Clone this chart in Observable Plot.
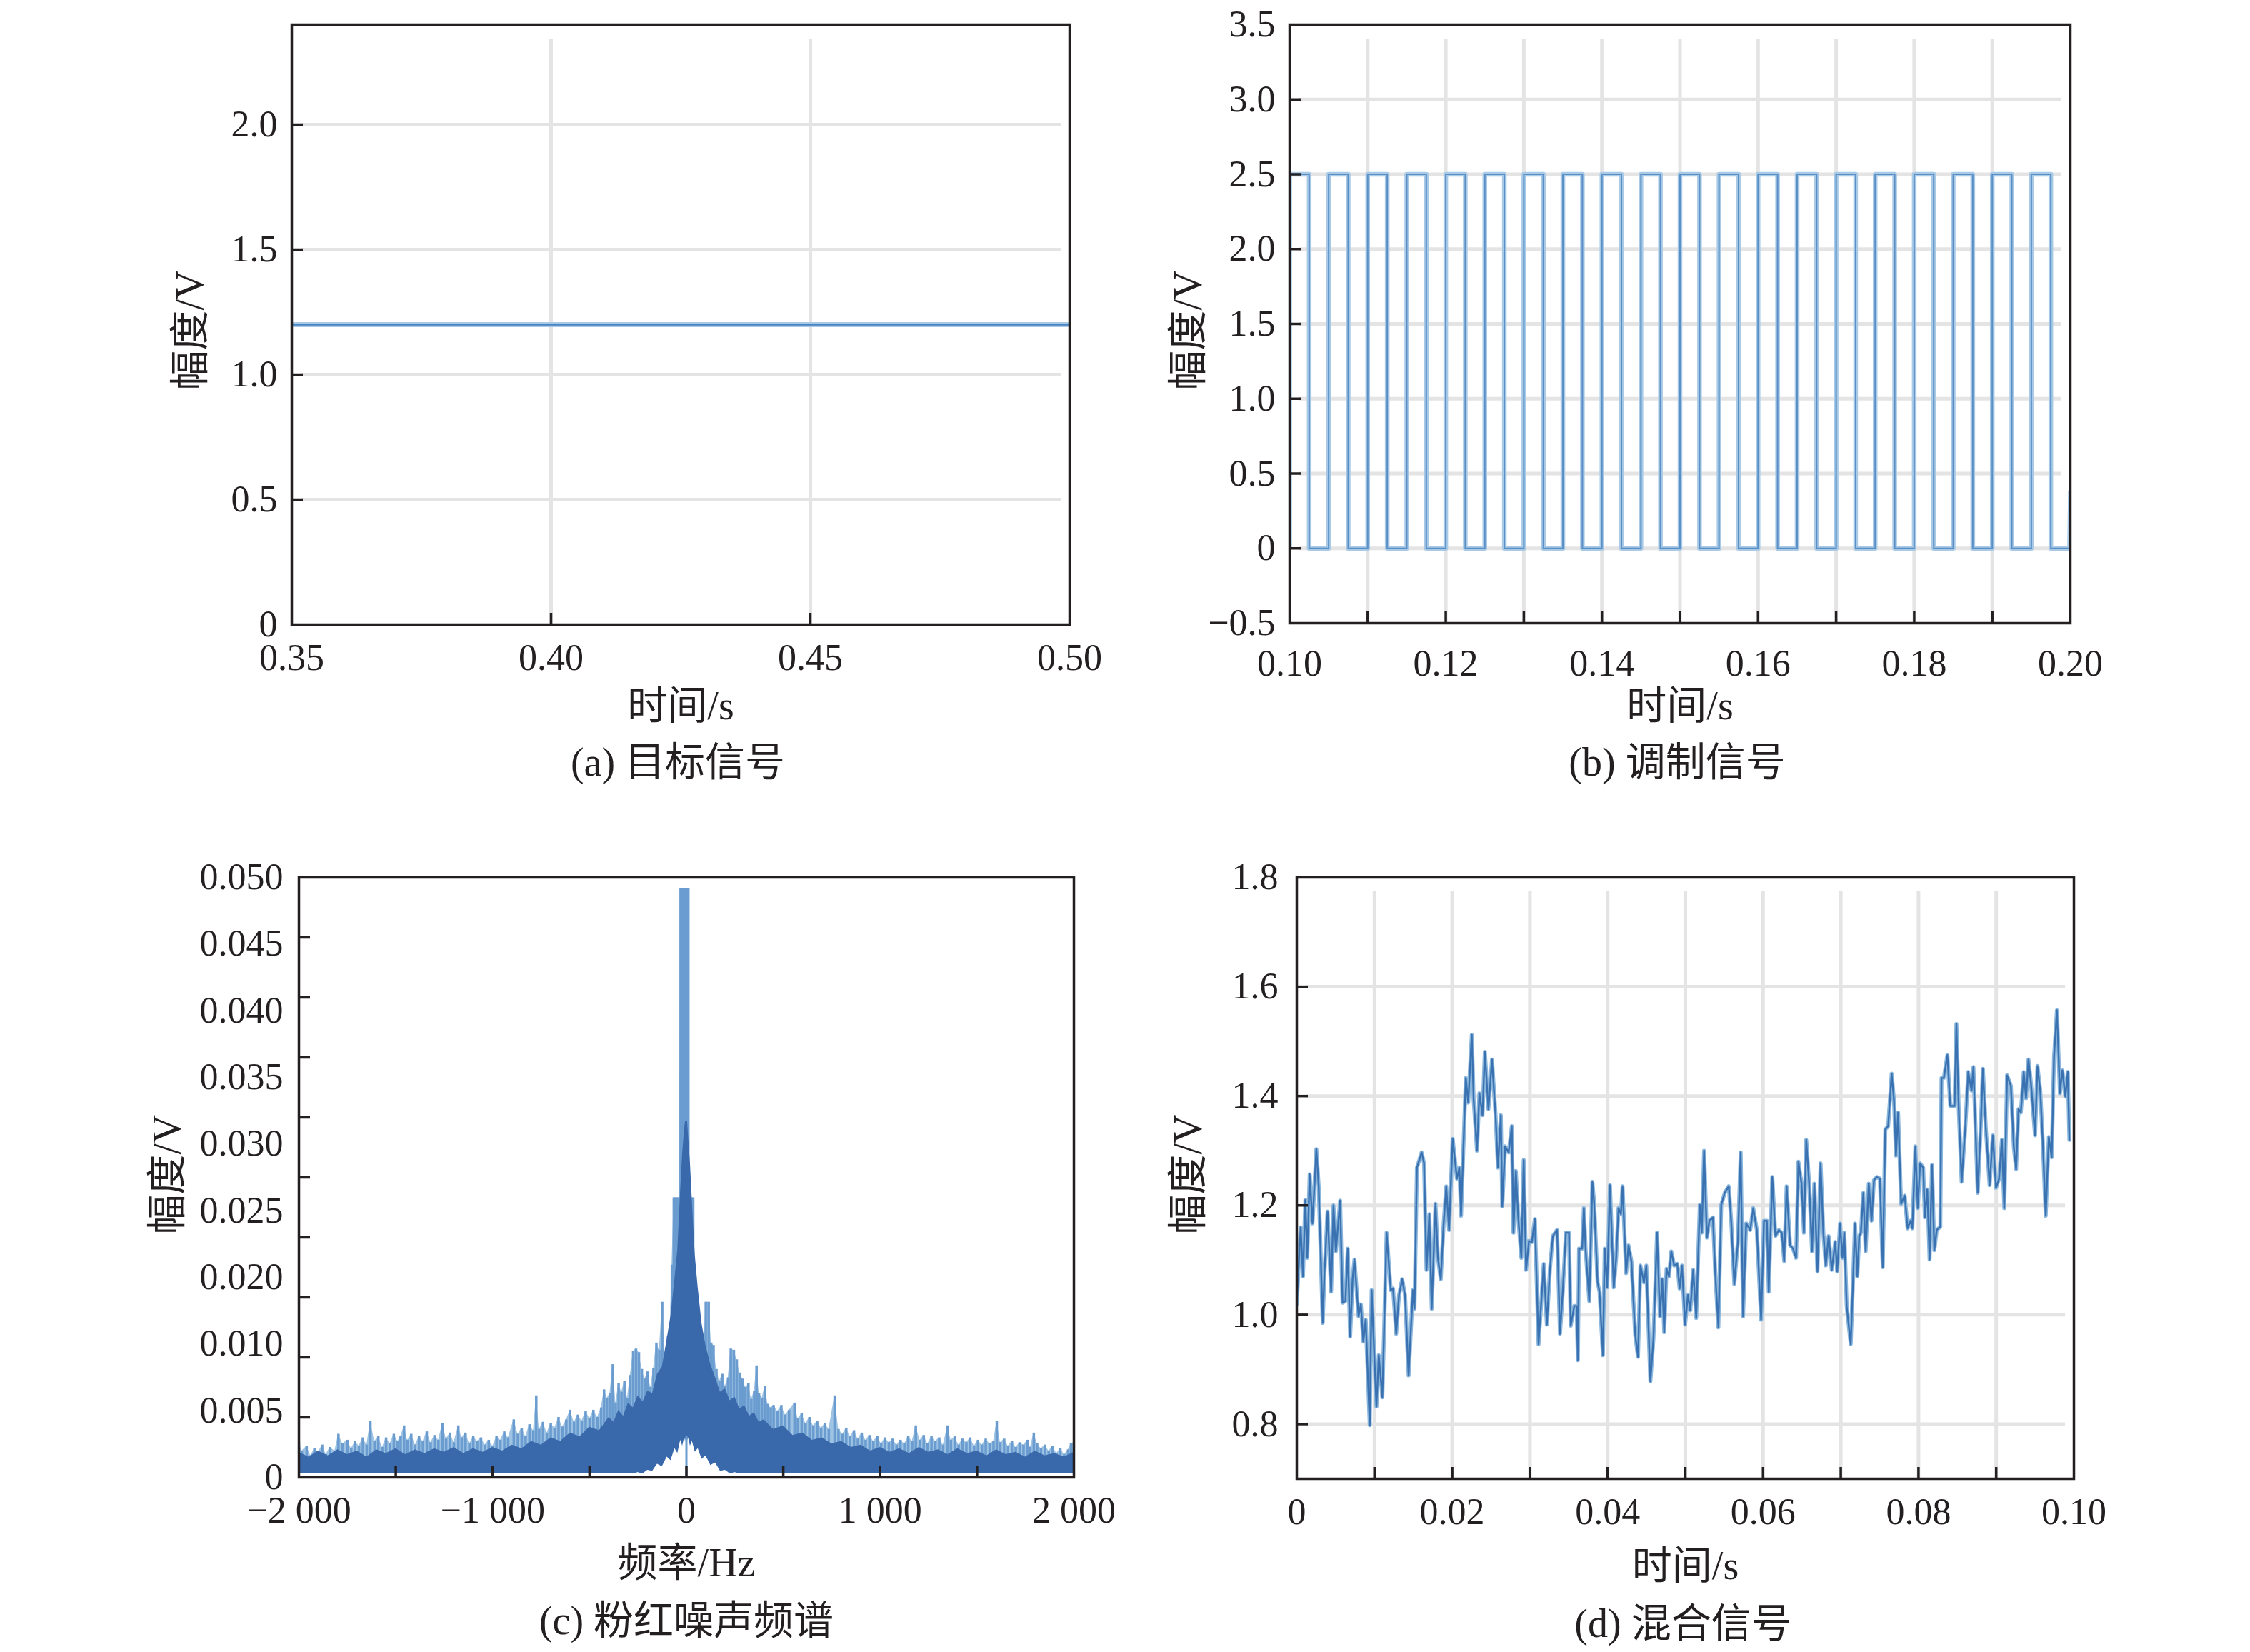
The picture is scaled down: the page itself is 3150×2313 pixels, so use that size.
<!DOCTYPE html>
<html><head><meta charset="utf-8">
<script src="https://cdn.jsdelivr.net/npm/d3@7"></script>
<script src="https://cdn.jsdelivr.net/npm/@observablehq/plot@0.6"></script>
<style>
html,body{margin:0;padding:0;background:#fff;}
#root{position:relative;width:3150px;height:2313px;background:#fff;overflow:hidden;}
.panel{position:absolute;}
.cap{position:absolute;transform:translate(-50%,-50%);font-size:56px;white-space:nowrap;color:#231f20;font-family:"Liberation Serif","Noto Sans CJK SC",serif;line-height:1;}
</style></head><body><div id="root"></div>
<script>
// ---------- Panel (a) target signal ----------
const aTime = [0.35, 0.50];
const aVolt = [1.2, 1.2];
const aXLabelVals = [0.35, 0.40, 0.45, 0.50];
const aXLabels = ["0.35", "0.40", "0.45", "0.50"];
const aYLabelVals = [0, 0.5, 1.0, 1.5, 2.0];
const aYLabels = ["0", "0.5", "1.0", "1.5", "2.0"];

// ---------- Panel (b) modulation signal ----------
const bHigh = 2.5, bLow = 0;
const bRise = [0.1000,0.1050,0.1100,0.1150,0.1200,0.1250,0.1300,0.1350,0.1400,0.1450,0.1500,0.1550,0.1600,0.1650,0.1700,0.1750,0.1800,0.1850,0.1900,0.1950];
const bFall = [0.1025,0.1075,0.1125,0.1175,0.1225,0.1275,0.1325,0.1375,0.1425,0.1475,0.1525,0.1575,0.1625,0.1675,0.1725,0.1775,0.1825,0.1875,0.1925,0.1975];
const bTailT = [0.1999, 0.2000];
const bTailV = [0, 0.38];
const bXLabelVals = [0.10, 0.12, 0.14, 0.16, 0.18, 0.20];
const bXLabels = ["0.10", "0.12", "0.14", "0.16", "0.18", "0.20"];
const bYLabelVals = [-0.5, 0, 0.5, 1.0, 1.5, 2.0, 2.5, 3.0, 3.5];
const bYLabels = ["\u22120.5", "0", "0.5", "1.0", "1.5", "2.0", "2.5", "3.0", "3.5"];

// ---------- Panel (c) pink noise spectrum ----------
const specF = [-2000,-1985,-1960,-1940,-1920,-1900,-1880,-1860,-1840,-1815,-1796,-1775,-1750,-1730,-1710,-1690,-1670,-1650,-1631,-1610,-1590,-1570,-1550,-1530,-1510,-1490,-1475,-1457,-1440,-1420,-1400,-1380,-1360,-1340,-1320,-1300,-1280,-1259,-1240,-1220,-1200,-1177,-1160,-1140,-1120,-1100,-1080,-1060,-1040,-1020,-1000,-980,-960,-940,-920,-891,-870,-850,-830,-810,-790,-775,-760,-740,-720,-700,-680,-660,-640,-620,-600,-580,-560,-540,-520,-500,-480,-460,-440,-425,-410,-395,-380,-365,-350,-335,-320,-305,-290,-275,-260,-245,-230,-215,-200,-185,-170,-155,-140,-125,-110,-95,-85,-75,-65,-55,-45,-35,-30,-25,-20,-15,-10,-5,0,5,10,15,25,35,45,55,65,75,88,100,115,128,140,155,170,185,200,215,229,245,260,275,290,305,320,335,350,362,375,390,405,420,435,450,470,490,510,530,558,575,595,615,635,655,675,695,715,735,765,785,805,825,845,865,885,905,925,945,965,985,1005,1025,1045,1065,1085,1105,1125,1145,1165,1184,1205,1225,1245,1265,1285,1305,1325,1348,1365,1385,1405,1425,1445,1465,1485,1505,1525,1545,1565,1585,1602,1620,1640,1660,1680,1700,1720,1740,1760,1775,1793,1810,1830,1850,1870,1890,1910,1930,1950,1970,1985,2000];
const specA = [0.0029,0.0022,0.0026,0.0018,0.0024,0.0021,0.0027,0.0019,0.0025,0.0022,0.0036,0.0028,0.0031,0.0024,0.0030,0.0026,0.0033,0.0027,0.0047,0.0030,0.0034,0.0025,0.0033,0.0028,0.0036,0.0030,0.0034,0.0043,0.0031,0.0036,0.0027,0.0034,0.0030,0.0038,0.0029,0.0035,0.0031,0.0045,0.0032,0.0037,0.0029,0.0043,0.0033,0.0037,0.0028,0.0034,0.0030,0.0033,0.0027,0.0031,0.0026,0.0034,0.0031,0.0038,0.0033,0.0048,0.0036,0.0041,0.0034,0.0044,0.0039,0.0068,0.0040,0.0046,0.0037,0.0045,0.0041,0.0050,0.0042,0.0048,0.0056,0.0046,0.0052,0.0047,0.0055,0.0049,0.0056,0.0050,0.0058,0.0073,0.0066,0.0070,0.0094,0.0062,0.0078,0.0071,0.0080,0.0066,0.0085,0.0105,0.0107,0.0104,0.0090,0.0082,0.0088,0.0075,0.0091,0.0112,0.0106,0.0146,0.0098,0.0118,0.0120,0.0177,0.0233,0.0233,0.0233,0.0233,0.0491,0.0491,0.0491,0.0491,0.0491,0.0491,0.0491,0.0491,0.0491,0.0233,0.0233,0.0233,0.0177,0.0150,0.0118,0.0110,0.0098,0.0146,0.0146,0.0112,0.0110,0.0090,0.0080,0.0086,0.0076,0.0083,0.0107,0.0106,0.0098,0.0087,0.0082,0.0075,0.0078,0.0065,0.0072,0.0093,0.0070,0.0066,0.0076,0.0061,0.0058,0.0060,0.0055,0.0060,0.0052,0.0056,0.0062,0.0049,0.0053,0.0045,0.0050,0.0043,0.0047,0.0041,0.0045,0.0040,0.0068,0.0040,0.0036,0.0041,0.0034,0.0039,0.0032,0.0037,0.0031,0.0035,0.0030,0.0034,0.0028,0.0033,0.0029,0.0032,0.0027,0.0031,0.0028,0.0034,0.0030,0.0043,0.0031,0.0035,0.0028,0.0034,0.0030,0.0033,0.0027,0.0043,0.0031,0.0034,0.0027,0.0032,0.0029,0.0033,0.0026,0.0031,0.0027,0.0032,0.0028,0.0030,0.0047,0.0029,0.0032,0.0026,0.0030,0.0025,0.0029,0.0027,0.0031,0.0025,0.0037,0.0028,0.0024,0.0027,0.0022,0.0026,0.0020,0.0024,0.0019,0.0023,0.0028,0.0029];
const bodyF = [-2000,-1950,-1900,-1850,-1800,-1750,-1700,-1650,-1600,-1550,-1500,-1450,-1400,-1350,-1300,-1250,-1200,-1150,-1100,-1050,-1000,-950,-900,-850,-800,-750,-700,-650,-600,-550,-500,-450,
-400,-375,-350,-325,-300,-275,-250,-225,-200,-175,-150,-125,-100,-80,-60,-45,-30,-20,-10,-5,
0,
5,10,20,30,45,60,80,100,125,150,175,200,225,250,275,300,325,350,375,400,
450,500,550,600,650,700,750,800,850,900,950,1000,1050,1100,1150,1200,1250,1300,1350,1400,1450,1500,1550,1600,1650,1700,1750,1800,1850,1900,1950,2000];
const bodyHi = [0.0021,0.0017,0.0022,0.0018,0.0023,0.0019,0.0022,0.0017,0.0023,0.0020,0.0024,0.0019,0.0023,0.0020,0.0024,0.0021,0.0025,0.0020,0.0024,0.0021,0.0025,0.0022,0.0027,0.0024,0.0030,0.0027,0.0033,0.0030,0.0037,0.0034,0.0042,0.0039,
0.0050,0.0046,0.0056,0.0051,0.0062,0.0058,0.0068,0.0063,0.0072,0.0070,0.0086,0.0092,0.0115,0.0135,0.0165,0.0190,0.0240,0.0270,0.0290,0.0297,
0.0297,
0.0297,0.0285,0.0262,0.0230,0.0185,0.0158,0.0128,0.0110,0.0094,0.0083,0.0071,0.0074,0.0064,0.0067,0.0057,0.0060,0.0051,0.0054,0.0046,0.0048,
0.0040,0.0043,0.0035,0.0037,0.0031,0.0033,0.0028,0.0030,0.0025,0.0027,0.0022,0.0025,0.0021,0.0024,0.0020,0.0025,0.0021,0.0023,0.0019,0.0024,0.0020,0.0022,0.0018,0.0023,0.0019,0.0021,0.0017,0.0022,0.0018,0.0020,0.0017,0.0021];
const bodyLo = [0.0003,0.0003,0.0003,0.0003,0.0003,0.0003,0.0003,0.0003,0.0003,0.0003,0.0003,0.0003,0.0003,0.0003,0.0003,0.0003,0.0003,0.0003,0.0003,0.0003,0.0003,0.0003,0.0003,0.0003,0.0003,0.0003,0.0003,0.0003,0.0003,0.0003,0.0003,0.0003,
0.0003,0.0003,0.0003,0.0003,0.0003,0.0003,0.0004,0.0003,0.0006,0.0005,0.0011,0.0009,0.0017,0.0014,0.0024,0.0020,0.0031,0.0026,0.0033,0.0030,
0.0034,
0.0030,0.0033,0.0026,0.0030,0.0021,0.0024,0.0015,0.0018,0.0010,0.0012,0.0005,0.0006,0.0003,0.0004,0.0003,0.0003,0.0003,0.0003,0.0003,0.0003,
0.0003,0.0003,0.0003,0.0003,0.0003,0.0003,0.0003,0.0003,0.0003,0.0003,0.0003,0.0003,0.0003,0.0003,0.0003,0.0003,0.0003,0.0003,0.0003,0.0003,0.0003,0.0003,0.0003,0.0003,0.0003,0.0003,0.0003,0.0003,0.0003,0.0003,0.0003,0.0003];
const cXLabelVals = [-2000, -1000, 0, 1000, 2000];
const cXLabels = ["\u22122 000", "\u22121 000", "0", "1 000", "2 000"];
const cYLabels = ["0", "0.005", "0.010", "0.020", "0.025", "0.030", "0.035", "0.040", "0.045", "0.050"];
const cYTicks = [0.005, 0.010, 0.015, 0.020, 0.025, 0.030, 0.035, 0.040, 0.045];
const cXTicks = [-1500, -1000, -500, 0, 500, 1000, 1500];

// ---------- Panel (d) mixed signal ----------
const noiseT = [0,0.0005,0.0008,0.0011,
0.00135,0.00166,0.00202,0.00252,0.00282,0.00334,0.00356,0.00396,0.00442,0.00472,0.00503,0.00558,0.00589,0.00626,0.00656,0.00687,0.00718,0.00742,0.00795,0.00825,0.00856,0.00887,0.00939,0.00963,0.01025,0.01055,0.01101,0.01156,0.01209,0.01239,0.01279,0.01316,0.01356,0.01393,0.01439,0.01494,0.01515,0.01546,0.01607,0.01638,0.01669,0.01706,0.01736,0.01785,0.01816,0.01853,0.01890,0.01923,0.01960,0.02006,0.02061,0.02092,0.02114,0.02175,0.02206,0.02252,0.02276,0.02319,0.02350,0.02390,0.02420,0.02466,0.02512,0.02558,0.02589,0.02626,0.02644,0.02681,0.02727,0.02767,0.02788,0.02819,0.02850,0.02890,0.02920,0.02951,0.02988,0.03025,0.03064,0.03111,0.03178,0.03218,0.03258,0.03295,0.03350,0.03387,0.03424,0.03463,0.03503,0.03525,0.03571,0.03601,0.03617,0.03632,
0.03673,0.03694,0.03718,0.03764,0.03804,0.03826,0.03871,0.03896,0.03939,0.03963,0.03994,0.04030,0.04079,0.04110,0.04140,0.04171,0.04192,0.04238,0.04269,0.04306,0.04355,0.04391,0.04422,0.04468,0.04498,0.04550,0.04590,0.04636,0.04673,0.04703,0.04728,0.04758,0.04789,0.04819,0.04856,0.04896,0.04926,0.04957,0.04997,0.05033,0.05064,0.05101,0.05140,0.05186,0.05211,0.05241,0.05278,0.05309,0.05355,0.05385,0.05425,0.05462,0.05507,0.05559,0.05590,0.05630,0.05676,0.05712,0.05743,0.05783,0.05835,0.05874,0.05920,0.05975,0.06012,0.06049,0.06073,0.06119,0.06159,0.06202,0.06241,0.06272,0.06303,0.06348,0.06385,0.06425,0.06455,0.06495,0.06526,0.06556,0.06593,0.06630,0.06660,0.06700,0.06740,0.06776,0.06807,0.06844,0.06884,0.06929,0.06954,0.06991,0.07021,
0.07046,0.07076,0.07128,0.07159,0.07183,0.07213,0.07238,0.07259,0.07290,0.07320,0.07360,0.07396,0.07427,0.07463,0.07503,0.07540,0.07573,0.07610,0.07655,0.07686,0.07710,0.07738,0.07777,0.07823,0.07860,0.07899,0.07921,0.07960,0.07991,0.08021,0.08061,0.08082,0.08113,0.08143,0.08174,0.08204,0.08235,0.08281,0.08296,0.08326,0.08372,0.08409,0.08464,0.08488,0.08518,0.08555,0.08601,0.08640,0.08683,0.08707,0.08762,0.08799,0.08829,0.08866,0.08915,0.08957,0.08997,0.09037,0.09073,0.09104,0.09140,0.09189,0.09226,0.09256,0.09287,0.09317,0.09354,0.09384,0.09415,0.09445,0.09500,0.09531,0.09567,0.09598,0.09637,0.09677,0.09714,0.09744,0.09781,0.09820,0.09851,0.09890,0.09921,0.09942];
const noiseV = [1.02,1.16,1.07,1.21,
1.104,1.257,1.167,1.303,1.235,0.985,1.076,1.189,1.042,1.200,1.116,1.209,1.022,1.025,1.121,0.960,1.065,1.101,0.997,1.019,0.951,0.991,0.798,1.045,0.832,0.926,0.849,1.150,1.045,1.048,0.965,1.036,1.065,1.036,0.889,1.045,1.011,1.269,1.297,1.277,1.082,1.184,1.011,1.203,1.104,1.065,1.167,1.235,1.155,1.322,1.249,1.269,1.181,1.433,1.388,1.512,1.393,1.300,1.405,1.365,1.481,1.376,1.467,1.365,1.269,1.365,1.198,1.308,1.297,1.345,1.150,1.263,1.178,1.104,1.283,1.082,1.135,1.133,1.175,0.946,1.093,0.982,1.084,1.144,1.155,0.965,1.045,1.150,1.150,0.980,1.016,1.016,0.917,1.121,
1.121,1.195,1.116,1.025,1.243,1.206,1.059,1.042,0.926,1.121,1.050,1.237,1.050,1.104,1.195,1.184,1.235,1.076,1.127,1.098,0.963,0.923,1.090,1.059,1.090,0.878,0.957,1.150,0.997,1.065,0.968,1.084,1.070,1.116,1.090,1.093,1.048,1.090,0.982,1.036,1.008,1.082,0.994,1.201,1.150,1.300,1.141,1.172,1.178,1.076,0.977,1.201,1.223,1.235,1.172,1.056,1.133,1.297,0.997,1.167,1.155,1.195,1.155,0.991,1.172,1.172,1.042,1.252,1.144,1.155,1.150,1.098,1.235,1.127,1.121,1.104,1.280,1.240,1.150,1.320,1.240,1.116,1.240,1.079,1.277,1.150,1.090,1.144,1.082,1.133,1.079,1.167,1.104,
1.150,1.016,0.946,1.067,1.167,1.070,1.144,1.150,1.223,1.116,1.240,1.172,1.246,1.252,1.249,1.087,1.339,1.345,1.441,1.390,1.291,1.370,1.203,1.218,1.158,1.172,1.158,1.308,1.195,1.277,1.269,1.178,1.229,1.101,1.274,1.118,1.155,1.161,1.433,1.433,1.475,1.382,1.382,1.532,1.376,1.243,1.339,1.444,1.410,1.453,1.223,1.337,1.450,1.342,1.237,1.328,1.232,1.249,1.320,1.195,1.438,1.419,1.308,1.266,1.376,1.370,1.444,1.396,1.467,1.427,1.328,1.455,1.410,1.320,1.181,1.325,1.288,1.472,1.557,1.405,1.447,1.399,1.444,1.320];
const dXLabelVals = [0, 0.02, 0.04, 0.06, 0.08, 0.10];
const dXLabels = ["0", "0.02", "0.04", "0.06", "0.08", "0.10"];
const dYLabelVals = [0.8, 1.0, 1.2, 1.4, 1.6, 1.8];
const dYLabels = ["0.8", "1.0", "1.2", "1.4", "1.6", "1.8"];

// ---------- shared styling ----------
const INK = "#231f20";
const GRID = "#e4e4e4";
const FONT = '"Liberation Serif","Noto Sans CJK SC",serif';
const LIGHT = "#a8cae6", DARK = "#4a83bf";

const root = document.getElementById("root");

function build(cfg) {
  const fw = cfg.width - cfg.mL - cfg.mR;
  const fh = cfg.height - cfg.mT - cfg.mB;
  const marks = [
    Plot.ruleY(cfg.yGrid, {y: d => d, stroke: GRID, strokeWidth: 5, insetLeft: 14, insetRight: 12}),
    Plot.ruleX(cfg.xGrid, {x: d => d, stroke: GRID, strokeWidth: 5, insetTop: 20}),
    ...cfg.marks,
    Plot.frame({stroke: INK, strokeWidth: 3.5}),
    Plot.tickY(cfg.yTicks, {y: d => d, stroke: INK, strokeWidth: 3.5, insetRight: fw - 16}),
    Plot.tickX(cfg.xTicks, {x: d => d, stroke: INK, strokeWidth: 3.5, insetTop: fh - 16}),
    Plot.text(cfg.yLabelVals, {y: d => d, text: (d, i) => cfg.yLabels[i], frameAnchor: "left", dx: cfg.yLabDx, textAnchor: "end", lineAnchor: "middle", fill: INK}),
    Plot.text(cfg.xLabelVals, {x: d => d, text: (d, i) => cfg.xLabels[i], frameAnchor: "bottom", dy: cfg.xLabDy, textAnchor: "middle", lineAnchor: "middle", fill: INK}),
    Plot.text([cfg.xTitle], {text: d => d, frameAnchor: "bottom", dy: cfg.xTitleDy, textAnchor: "middle", lineAnchor: "middle", fill: INK, fontSize: 56}),
    Plot.text([cfg.yTitle], {text: d => d, frameAnchor: "left", dx: cfg.yTitleDx, dy: cfg.yTitleDy, rotate: -90, textAnchor: "middle", lineAnchor: "middle", fill: INK, fontSize: 56})
  ];
  const svg = Plot.plot({
    width: cfg.width, height: cfg.height,
    marginLeft: cfg.mL, marginRight: cfg.mR, marginTop: cfg.mT, marginBottom: cfg.mB,
    x: {domain: cfg.xDomain, axis: null},
    y: {domain: cfg.yDomain, axis: null},
    style: {fontSize: "52px", fontFamily: FONT, color: INK, background: "transparent", overflow: "visible"},
    marks
  });
  const div = document.createElement("div");
  div.className = "panel";
  div.style.left = cfg.left + "px";
  div.style.top = cfg.top + "px";
  div.style.width = cfg.width + "px";
  div.style.height = cfg.height + "px";
  div.appendChild(svg);
  root.appendChild(div);
  const cap = document.createElement("div");
  cap.className = "cap";
  cap.textContent = cfg.caption;
  cap.style.left = cfg.capX + "px";
  cap.style.top = cfg.capY + "px";
  root.appendChild(cap);
}

// Panel (a)
const aData = aTime.map((t, i) => ({t, v: aVolt[i]}));
build({
  left: 150, top: 0, width: 1410, height: 1030, mL: 258, mR: 63, mT: 34, mB: 156,
  xDomain: [0.35, 0.50], yDomain: [0, 2.4],
  yGrid: [0.5, 1.0, 1.5, 2.0], xGrid: [0.40, 0.45],
  yTicks: [0.5, 1.0, 1.5, 2.0], xTicks: [0.40, 0.45],
  yLabelVals: aYLabelVals, yLabels: aYLabels, yLabDx: -20,
  xLabelVals: aXLabelVals, xLabels: aXLabels, xLabDy: 47,
  xTitle: "时间/s", xTitleDy: 115, yTitle: "幅度/V", yTitleDx: -141, yTitleDy: 8,
  caption: "(a) 目标信号", capX: 949, capY: 1067,
  marks: [
    Plot.line(aData, {x: "t", y: "v", stroke: LIGHT, strokeWidth: 7, clip: true}),
    Plot.line(aData, {x: "t", y: "v", stroke: DARK, strokeWidth: 2.5, clip: true})
  ]
});

// Panel (b)
const bData = [];
bRise.forEach((r, i) => {
  bData.push({t: r, v: bLow}, {t: r, v: bHigh}, {t: bFall[i], v: bHigh}, {t: bFall[i], v: bLow});
});
bTailT.forEach((t, i) => bData.push({t, v: bTailV[i]}));
build({
  left: 1560, top: 0, width: 1430, height: 1030, mL: 245, mR: 92, mT: 34, mB: 158,
  xDomain: [0.10, 0.20], yDomain: [-0.5, 3.5],
  yGrid: [0, 0.5, 1.0, 1.5, 2.0, 2.5, 3.0], xGrid: [0.11, 0.12, 0.13, 0.14, 0.15, 0.16, 0.17, 0.18, 0.19],
  yTicks: [0, 0.5, 1.0, 1.5, 2.0, 2.5, 3.0], xTicks: [0.11, 0.12, 0.13, 0.14, 0.15, 0.16, 0.17, 0.18, 0.19],
  yLabelVals: bYLabelVals, yLabels: bYLabels, yLabDx: -20,
  xLabelVals: bXLabelVals, xLabels: bXLabels, xLabDy: 57,
  xTitle: "时间/s", xTitleDy: 117, yTitle: "幅度/V", yTitleDx: -141, yTitleDy: 9,
  caption: "(b) 调制信号", capX: 2348, capY: 1067,
  marks: [
    Plot.line(bData, {x: "t", y: "v", stroke: LIGHT, strokeWidth: 6.5, clip: true}),
    Plot.line(bData, {x: "t", y: "v", stroke: "#5a8fc6", strokeWidth: 2, clip: true})
  ]
});

// Panel (c)
const specData = specF.map((f, i) => ({f, a: specA[i]}));
const bodyData = bodyF.map((f, i) => ({f, lo: bodyLo[i], hi: bodyHi[i]}));
const centerIdx = bodyF.indexOf(0);
const cYLabelVals = cYLabels.map((_, i) => i * 0.05 / (cYLabels.length - 1));
build({
  left: 150, top: 1160, width: 1450, height: 1070, mL: 268, mR: 97, mT: 68, mB: 162,
  xDomain: [-2000, 2000], yDomain: [0, 0.05],
  yGrid: [], xGrid: [],
  yTicks: cYTicks, xTicks: cXTicks,
  yLabelVals: cYLabelVals, yLabels: cYLabels, yLabDx: -22,
  xLabelVals: cXLabelVals, xLabels: cXLabels, xLabDy: 47,
  xTitle: "频率/Hz", xTitleDy: 121, yTitle: "幅度/V", yTitleDx: -183, yTitleDy: -4,
  caption: "(c) 粉红噪声频谱", capX: 961, capY: 2269,
  marks: [
    Plot.areaY(specData, {x: "f", y1: 0, y2: "a", fill: "#9fc3e3", clip: true}),
    Plot.ruleX(specData, {x: "f", y1: 0, y2: "a", stroke: "#6a9cd0", strokeWidth: 3.5, clip: true}),
    Plot.areaY(bodyData, {x: "f", y1: "lo", y2: "hi", fill: "#3a69ab", clip: true}),
    Plot.areaY(bodyData, {x: "f", y1: 0, y2: "lo", fill: "#ffffff", clip: true}),
    Plot.ruleX([bodyData[centerIdx]], {x: "f", y1: 0, y2: "lo", stroke: "#6a9cd0", strokeWidth: 3})
  ]
});

// Panel (d)
const dData = noiseT.map((t, i) => ({t, v: noiseV[i]}));
build({
  left: 1560, top: 1160, width: 1440, height: 1070, mL: 255, mR: 97, mT: 68, mB: 160,
  xDomain: [0, 0.10], yDomain: [0.7, 1.8],
  yGrid: [0.8, 1.0, 1.2, 1.4, 1.6], xGrid: [0.01, 0.02, 0.03, 0.04, 0.05, 0.06, 0.07, 0.08, 0.09],
  yTicks: [0.8, 1.0, 1.2, 1.4, 1.6], xTicks: [0.01, 0.02, 0.03, 0.04, 0.05, 0.06, 0.07, 0.08, 0.09],
  yLabelVals: dYLabelVals, yLabels: dYLabels, yLabDx: -26,
  xLabelVals: dXLabelVals, xLabels: dXLabels, xLabDy: 47,
  xTitle: "时间/s", xTitleDy: 123, yTitle: "幅度/V", yTitleDx: -151, yTitleDy: -5,
  caption: "(d) 混合信号", capX: 2356, capY: 2273,
  marks: [
    Plot.line(dData, {x: "t", y: "v", stroke: "#8ab6dc", strokeWidth: 5.5, clip: true}),
    Plot.line(dData, {x: "t", y: "v", stroke: "#3a71b1", strokeWidth: 2.4, clip: true})
  ]
});
</script></body></html>
